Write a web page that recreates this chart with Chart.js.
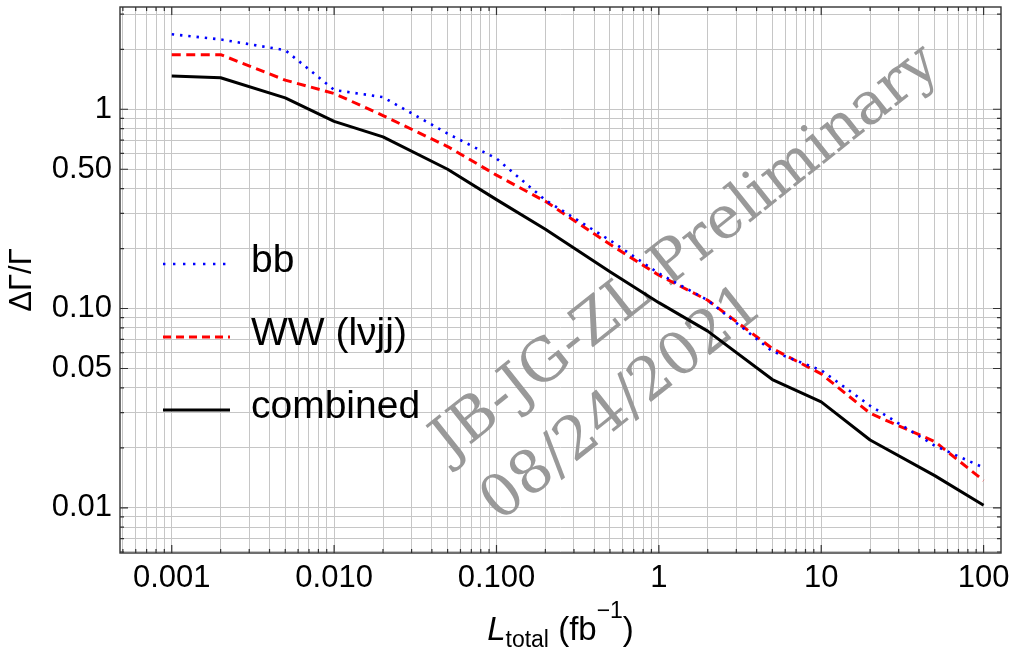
<!DOCTYPE html>
<html>
<head>
<meta charset="utf-8">
<script src="https://cdn.jsdelivr.net/npm/chart.js@4.4.1/dist/chart.umd.min.js"></script>
<style>
  html, body { margin: 0; padding: 0; background: #fff; }
  canvas { display: block; }
</style>
</head>
<body>
<canvas id="widthChart" width="1012" height="650"></canvas>
<script>
// integrated luminosity (fb^-1) and relative width uncertainty per channel
const lumi = [0.001, 0.002, 0.005, 0.01, 0.02, 0.05, 0.1, 0.2, 0.5, 1, 2, 5, 10, 20, 50, 100];
const bbErr = [2.38, 2.24, 1.98, 1.25, 1.15, 0.755, 0.566, 0.35, 0.22, 0.15, 0.11, 0.061, 0.049, 0.0325, 0.0205, 0.0159];
const wwErr = [1.88, 1.88, 1.40, 1.20, 0.93, 0.65, 0.467, 0.345, 0.21, 0.147, 0.110, 0.063, 0.047, 0.0298, 0.0215, 0.0137];
const combinedErr = [1.47, 1.44, 1.14, 0.87, 0.727, 0.50, 0.352, 0.25, 0.153, 0.107, 0.077, 0.044, 0.034, 0.0219, 0.0145, 0.0103];

const seriesLabels = ['bb', 'WW (l\u03bdjj)', 'combined'];

const xTickValues = [0.001, 0.01, 0.1, 1, 10, 100];
const xTickLabels = ['0.001', '0.010', '0.100', '1', '10', '100'];
const yTickValues = [0.01, 0.05, 0.1, 0.5, 1];
const yTickLabels = ['0.01', '0.05', '0.10', '0.50', '1'];

const FONT = '"Liberation Sans", Arial, sans-serif';

function same(a, b) { return Math.abs(a - b) / b < 1e-6; }

// every 1..9 x 10^n between lo and hi, used for grid lines and frame ticks
function logSteps(lo, hi) {
    const out = [];
    for (let e = Math.floor(Math.log10(lo)); e <= Math.ceil(Math.log10(hi)); e++) {
        for (let k = 1; k <= 9; k++) {
            const v = parseFloat((k * Math.pow(10, e)).toPrecision(6));
            if (v >= lo && v <= hi) out.push(v);
        }
    }
    return out;
}

function labelFor(values, labels) {
    return (value) => {
        const i = values.findIndex(t => same(value, t));
        return i >= 0 ? labels[i] : '';
    };
}

// Mathematica-like frame: box on all sides with inward ticks
const frameTicks = {
    id: 'frameTicks',
    afterDatasetsDraw(chart) {
        const { ctx, chartArea: a, scales: { x, y } } = chart;
        ctx.save();
        ctx.strokeStyle = '#333';
        ctx.lineWidth = 1.2;
        ctx.beginPath();
        x.ticks.forEach(t => {
            const px = x.getPixelForValue(t.value);
            const len = xTickValues.some(v => same(t.value, v)) ? 8 : 4;
            ctx.moveTo(px, a.bottom); ctx.lineTo(px, a.bottom - len);
            ctx.moveTo(px, a.top); ctx.lineTo(px, a.top + len);
        });
        y.ticks.forEach(t => {
            const py = y.getPixelForValue(t.value);
            const len = yTickValues.some(v => same(t.value, v)) ? 8 : 4;
            ctx.moveTo(a.left, py); ctx.lineTo(a.left + len, py);
            ctx.moveTo(a.right, py); ctx.lineTo(a.right - len, py);
        });
        ctx.stroke();
        ctx.lineWidth = 1.4;
        ctx.strokeRect(a.left, a.top, a.right - a.left, a.bottom - a.top);
        ctx.restore();
    }
};

// grey stamp across the plot
const stamp = {
    id: 'stamp',
    beforeDatasetsDraw(chart) {
        const { ctx } = chart;
        ctx.save();
        ctx.translate(450, 461);
        ctx.rotate(-38.5 * Math.PI / 180);
        ctx.fillStyle = '#999999';
        ctx.font = '59px "DejaVu Serif", serif';
        ctx.textAlign = 'left';
        ctx.textBaseline = 'alphabetic';
        ctx.fillText('JB-JG-ZL Preliminary', 0, 0);
        ctx.fillText('08/24/2021', 0, 79);
        ctx.restore();
    }
};

// legend inside the plot, left side
const insideLegend = {
    id: 'insideLegend',
    afterDraw(chart) {
        const { ctx } = chart;
        ctx.save();
        chart.data.datasets.forEach((ds, i) => {
            const yy = 264 + i * 73;
            ctx.strokeStyle = ds.borderColor;
            ctx.lineWidth = ds.borderWidth;
            ctx.setLineDash(ds.legendDash || []);
            ctx.beginPath();
            ctx.moveTo(163, yy);
            ctx.lineTo(230, yy);
            ctx.stroke();
            ctx.setLineDash([]);
            ctx.fillStyle = '#000';
            ctx.font = '39px ' + FONT;
            ctx.textBaseline = 'alphabetic';
            ctx.fillText(ds.label, 251, yy + 8);
        });
        ctx.restore();
    }
};

// x axis title with sub/superscripts: L_total (fb^-1)
const xTitle = {
    id: 'xTitle',
    afterDraw(chart) {
        const { ctx, chartArea: a } = chart;
        const big = 33, small = 23, base = 640;
        const parts = [
            { t: 'L', f: 'italic ' + big + 'px ' + FONT, dy: 0 },
            { t: 'total', f: small + 'px ' + FONT, dy: 7 },
            { t: ' (fb', f: big + 'px ' + FONT, dy: 0 },
            { t: '\u22121', f: small + 'px ' + FONT, dy: -22 },
            { t: ')', f: big + 'px ' + FONT, dy: 0 }
        ];
        ctx.save();
        let total = 0;
        parts.forEach(p => { ctx.font = p.f; p.w = ctx.measureText(p.t).width; total += p.w; });
        let cx = (a.left + a.right) / 2 - total / 2;
        ctx.fillStyle = '#000';
        ctx.textBaseline = 'alphabetic';
        parts.forEach(p => {
            ctx.font = p.f;
            ctx.fillText(p.t, cx, base + p.dy);
            cx += p.w;
        });
        ctx.restore();
    }
};

const pairs = (ys) => lumi.map((x, i) => ({ x, y: ys[i] }));

new Chart(document.getElementById('widthChart'), {
    type: 'line',
    data: {
        datasets: [
            {
                label: seriesLabels[0],
                data: pairs(bbErr),
                borderColor: '#0000ff',
                borderWidth: 2.6,
                borderDash: [2.4, 5.9],
                legendDash: [2.4, 7.6]
            },
            {
                label: seriesLabels[1],
                data: pairs(wwErr),
                borderColor: '#ff0000',
                borderWidth: 3,
                borderDash: [9, 5.5],
                legendDash: [8, 5]
            },
            {
                label: seriesLabels[2],
                data: pairs(combinedErr),
                borderColor: '#000000',
                borderWidth: 3,
                borderDash: []
            }
        ]
    },
    options: {
        responsive: false,
        animation: false,
        events: [],
        layout: { padding: { top: 7, right: 11, left: 0, bottom: 0 } },
        elements: {
            point: { radius: 0 },
            line: { tension: 0, borderCapStyle: 'butt', borderJoinStyle: 'round', fill: false }
        },
        plugins: {
            legend: { display: false },
            tooltip: { enabled: false }
        },
        scales: {
            x: {
                type: 'logarithmic',
                position: 'bottom',
                min: 0.00048,
                max: 128,
                afterBuildTicks: (s) => { s.ticks = logSteps(s.min, s.max).map(v => ({ value: v })); },
                afterFit: (s) => { s.height = 97; s.paddingLeft = 0; s.paddingRight = 0; },
                grid: { color: '#c6c6c6', lineWidth: 1, drawTicks: false },
                border: { display: false },
                ticks: {
                    autoSkip: false,
                    maxRotation: 0,
                    minRotation: 0,
                    padding: 7,
                    color: '#000',
                    font: { family: FONT, size: 31 },
                    callback: labelFor(xTickValues, xTickLabels)
                },
                title: { display: false }
            },
            y: {
                type: 'logarithmic',
                position: 'left',
                min: 0.00593,
                max: 3.26,
                afterBuildTicks: (s) => { s.ticks = logSteps(s.min, s.max).map(v => ({ value: v })); },
                afterFit: (s) => { s.width = 120; s.paddingTop = 0; s.paddingBottom = 0; },
                grid: { color: '#c6c6c6', lineWidth: 1, drawTicks: false },
                border: { display: false },
                ticks: {
                    autoSkip: false,
                    padding: 8,
                    color: '#000',
                    font: { family: FONT, size: 31 },
                    callback: labelFor(yTickValues, yTickLabels)
                },
                title: {
                    display: true,
                    text: '\u0394\u0393/\u0393',
                    color: '#000',
                    font: { family: FONT, size: 31 },
                    padding: { top: 4, bottom: 0 }
                }
            }
        }
    },
    plugins: [stamp, frameTicks, insideLegend, xTitle]
});
</script>
</body>
</html>
